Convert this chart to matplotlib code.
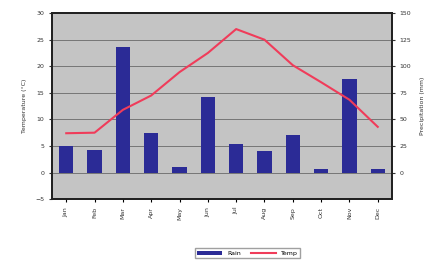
import numpy as np
import matplotlib
matplotlib.use("Agg")
import matplotlib.pyplot as plt

months = ['Jan', 'Feb', 'Mar', 'Apr', 'May', 'Jun', 'Jul', 'Aug', 'Sep', 'Oct', 'Nov', 'Dec']
rain = [25, 21, 118, 37, 5, 71, 27, 20, 35, 3.5, 88, 3]
temp = [7.4, 7.5, 11.8, 14.5, 18.9, 22.5, 27, 25, 20.2, 17, 13.7, 8.6]
temp_ticks = [-5, 0, 5, 10, 15, 20, 25, 30]
rain_ticks = [0, 25, 50, 75, 100, 125, 150]

fig = plt.figure(figsize=(4.34, 2.68), dpi=100)
pos = [0.12, 0.257, 0.783, 0.694]

# grey plot background behind both axes
bg = fig.add_axes(pos, zorder=0)
bg.set_facecolor('#c4c4c4')
bg.set_xticks([])
bg.set_yticks([])

ax2 = fig.add_axes(pos, zorder=1)   # precipitation (bars, right axis)
ax = fig.add_axes(pos, zorder=2)    # temperature (line, left axis)
ax.patch.set_visible(False)
ax2.patch.set_visible(False)

x = np.arange(len(months))
bars = ax2.bar(x, rain, width=0.5, color='#2b2b96', zorder=2)
line, = ax.plot(x, temp, color='#f03c5a', lw=1.5, zorder=3)

ax.set_xlim(-0.5, 11.5)
ax2.set_xlim(-0.5, 11.5)
ax.set_ylim(-5, 30)
ax2.set_ylim(-25, 150)
ax.set_yticks(temp_ticks)
ax2.set_yticks(rain_ticks)
ax2.yaxis.tick_right()
ax2.yaxis.set_label_position('right')
ax2.set_xticks([])
for t in [0, 5, 10, 15, 20, 25]:
    bg.axhline((t + 5) / 35, color='#6a6a6a', lw=0.6)

ax.set_xticks(x)
ax.set_xticklabels(months, rotation=90, fontsize=4.5, color='#333333')
ax.tick_params(axis='y', labelsize=4.5, colors='#333333', length=2)
ax2.tick_params(axis='y', labelsize=4.5, colors='#333333', length=2)
ax.tick_params(axis='x', length=2)
ax.set_ylabel('Temperature (°C)', fontsize=4.5, color='#333333', labelpad=6)
ax2.set_ylabel('Precipitation (mm)', fontsize=4.5, color='#333333', labelpad=6)

for a in (ax, ax2, bg):
    for s in a.spines.values():
        s.set_linewidth(1.2)
        s.set_color('#222222')

fig.legend([bars, line], ['Rain', 'Temp'], loc='center', bbox_to_anchor=(0.57, 0.055),
           ncol=2, fontsize=4.5, frameon=True, fancybox=False, edgecolor='#888888',
           handlelength=4, columnspacing=1.5)

fig.savefig('out.png', dpi=100)
